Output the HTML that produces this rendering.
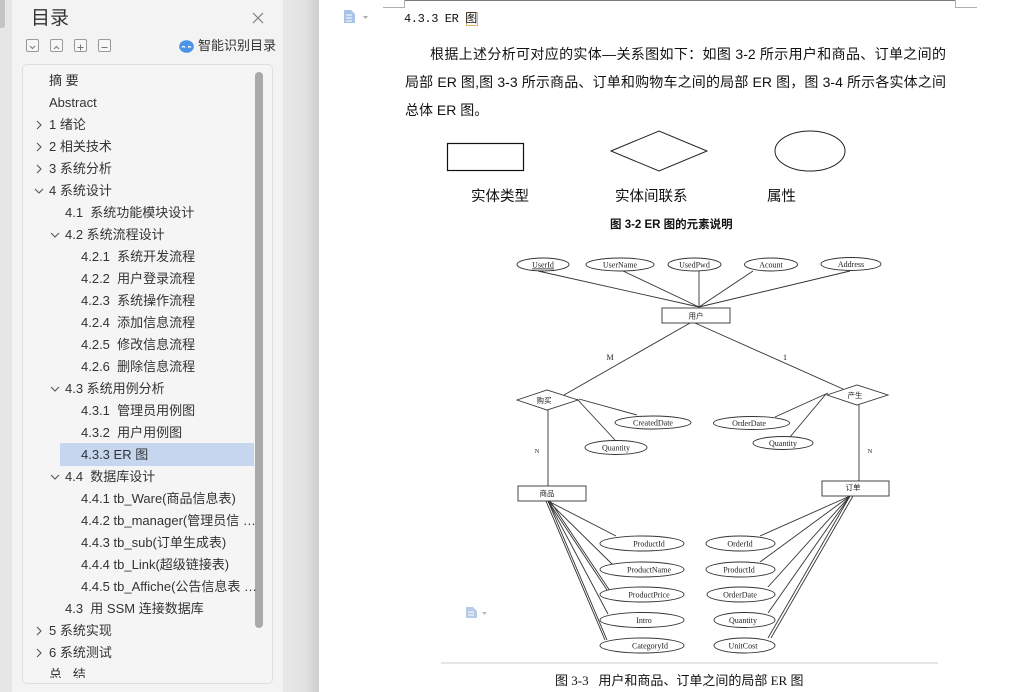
<!DOCTYPE html>
<html><head><meta charset="utf-8">
<style>
*{margin:0;padding:0;box-sizing:border-box}
html,body{width:1026px;height:692px;overflow:hidden;background:#fff}
body{position:relative;font-family:"Liberation Sans","Noto Sans CJK SC",sans-serif}
.abs{position:absolute;white-space:nowrap}
#strip{position:absolute;left:0;top:0;width:12px;height:692px;background:#e6e6e6}
#thumb{position:absolute;left:0;top:0;width:5px;height:28px;background:#c4c4c4;border-radius:0 0 3px 0}
#pane{position:absolute;left:12px;top:0;width:271px;height:692px;background:#f3f3f3}
#shadow{position:absolute;left:283px;top:0;width:36px;height:692px;background:linear-gradient(to right,#e8e8e8 0%,#e2e2e2 60%,#cdcdcd 100%)}
#box{position:absolute;left:22px;top:64px;width:251px;height:620px;background:#f5f5f5;border:1px solid #dedede;border-radius:5px;overflow:hidden}
#sb{position:absolute;left:255px;top:72px;width:8px;height:556px;background:#a9a9a9;border-radius:4px}
.it{position:absolute;font-size:13px;color:#333;line-height:22px;height:22px;white-space:nowrap}
.btn{position:absolute;top:39px;width:13px;height:13px;border:1px solid #9a9a9a;border-radius:2px;background:#f7f7f7}
.doc{font-family:"Liberation Serif","Noto Sans CJK SC",sans-serif;color:#111}
</style></head><body>
<div id="strip"><div id="thumb"></div></div>
<div id="pane"></div>
<div id="shadow"></div>

<div class="abs" style="left:31px;top:6px;font-size:19px;color:#333;line-height:26px">目录</div>
<svg class="abs" style="left:252px;top:12px" width="12" height="12"><path d="M1 1L11 11M11 1L1 11" stroke="#777" stroke-width="1.1"/></svg>

<div class="btn" style="left:26px"><svg width="11" height="11"><path d="M3 4L5.5 6.5L8 4" stroke="#777" fill="none"/></svg></div>
<div class="btn" style="left:50px"><svg width="11" height="11"><path d="M3 7L5.5 4.5L8 7" stroke="#777" fill="none"/></svg></div>
<div class="btn" style="left:74px"><svg width="11" height="11"><path d="M2.5 5.5H8.5M5.5 2.5V8.5" stroke="#777" fill="none"/></svg></div>
<div class="btn" style="left:98px"><svg width="11" height="11"><path d="M2.5 5.5H8.5" stroke="#777" fill="none"/></svg></div>

<svg class="abs" style="left:179px;top:40px" width="15" height="13"><ellipse cx="7.5" cy="6.5" rx="7.3" ry="6.3" fill="#4a93e6"/><path d="M3 7.5Q4.5 5.5 6 7.5M9 7.5Q10.5 5.5 12 7.5" stroke="#fff" stroke-width="1.2" fill="none"/></svg>
<div class="abs" style="left:198px;top:37px;font-size:13px;color:#333;line-height:18px">智能识别目录</div>

<div id="box">
<div style="position:absolute;left:37px;top:378px;width:194px;height:23px;background:#c6d6ef"></div>
</div>
<div id="sb"></div>

<div style="position:absolute;left:22px;top:64px;width:251px;height:614px;overflow:hidden">
<div style="position:absolute;left:-22px;top:-64px;width:300px;height:700px">
<div class="it" style="left:49px;top:70px">摘&nbsp;要</div>
<div class="it" style="left:49px;top:92px">Abstract</div>
<div class="it" style="left:49px;top:114px">1 绪论</div>
<div class="it" style="left:49px;top:136px">2 相关技术</div>
<div class="it" style="left:49px;top:158px">3 系统分析</div>
<div class="it" style="left:49px;top:180px">4 系统设计</div>
<div class="it" style="left:65px;top:202px">4.1&nbsp;&nbsp;系统功能模块设计</div>
<div class="it" style="left:65px;top:224px">4.2 系统流程设计</div>
<div class="it" style="left:81px;top:246px">4.2.1&nbsp;&nbsp;系统开发流程</div>
<div class="it" style="left:81px;top:268px">4.2.2&nbsp;&nbsp;用户登录流程</div>
<div class="it" style="left:81px;top:290px">4.2.3&nbsp;&nbsp;系统操作流程</div>
<div class="it" style="left:81px;top:312px">4.2.4&nbsp;&nbsp;添加信息流程</div>
<div class="it" style="left:81px;top:334px">4.2.5&nbsp;&nbsp;修改信息流程</div>
<div class="it" style="left:81px;top:356px">4.2.6&nbsp;&nbsp;删除信息流程</div>
<div class="it" style="left:65px;top:378px">4.3 系统用例分析</div>
<div class="it" style="left:81px;top:400px">4.3.1&nbsp;&nbsp;管理员用例图</div>
<div class="it" style="left:81px;top:422px">4.3.2&nbsp;&nbsp;用户用例图</div>
<div class="it" style="left:81px;top:444px">4.3.3 ER 图</div>
<div class="it" style="left:65px;top:466px">4.4&nbsp;&nbsp;数据库设计</div>
<div class="it" style="left:81px;top:488px">4.4.1 tb_Ware(商品信息表)</div>
<div class="it" style="left:81px;top:510px">4.4.2 tb_manager(管理员信 …</div>
<div class="it" style="left:81px;top:532px">4.4.3 tb_sub(订单生成表)</div>
<div class="it" style="left:81px;top:554px">4.4.4 tb_Link(超级链接表)</div>
<div class="it" style="left:81px;top:576px">4.4.5 tb_Affiche(公告信息表 …</div>
<div class="it" style="left:65px;top:598px">4.3&nbsp;&nbsp;用 SSM 连接数据库</div>
<div class="it" style="left:49px;top:620px">5 系统实现</div>
<div class="it" style="left:49px;top:642px">6 系统测试</div>
<div class="it" style="left:49px;top:664px">总&nbsp;&nbsp;&nbsp;结</div>
<svg style="position:absolute;left:0;top:0" width="300" height="700" fill="none" stroke="#555" stroke-width="1.1">
<path d="M37 121L41 125L37 129"/>
<path d="M37 143L41 147L37 151"/>
<path d="M37 165L41 169L37 173"/>
<path d="M35 189L39 193L43 189"/>
<path d="M51 233L55 237L59 233"/>
<path d="M51 387L55 391L59 387"/>
<path d="M51 475L55 479L59 475"/>
<path d="M37 627L41 631L37 635"/>
<path d="M37 649L41 653L37 657"/>
</svg>
</div>
</div>

<!-- Document area -->
<svg class="abs" style="left:0;top:0" width="1026" height="692">
<line x1="404" y1="0.5" x2="955" y2="0.5" stroke="#7a7a7a" stroke-width="1"/>
<path d="M383 7.5H404.5V0M955.5 0V7.5H977" stroke="#b0b0b0" fill="none"/>
<path d="M344 10H351L355 14V23H344Z" fill="#a9c3e6"/>
<path d="M346 15H352M346 18H352M346 21H352" stroke="#fff" stroke-width="1"/>
<path d="M363 16H368L365.5 19Z" fill="#aaa"/>
<path d="M466 607H473L477 611V618H466Z" fill="#b7cbe8"/>
<path d="M468 612H474M468 615H474" stroke="#fff"/>
<path d="M482 612H487L484.5 615Z" fill="#bbb"/>
<rect x="447.5" y="143.5" width="76" height="27" fill="none" stroke="#111" stroke-width="1.2"/>
<path d="M611 151L659 131L707 151L659 171Z" fill="none" stroke="#222" stroke-width="1"/>
<ellipse cx="810" cy="151" rx="35" ry="20" fill="none" stroke="#222" stroke-width="1"/>
<rect x="466.5" y="12.5" width="11" height="13" fill="none" stroke="#e0a040" stroke-width="0.8"/>
<rect x="441" y="662" width="497" height="2" fill="#e6e6e6"/>

<g stroke="#333" stroke-width="0.9" fill="none">
<line x1="538" y1="271" x2="699" y2="307"/>
<line x1="623" y1="271" x2="699" y2="307"/>
<line x1="699" y1="271" x2="699" y2="307"/>
<line x1="753" y1="271" x2="699" y2="307"/>
<line x1="850" y1="271" x2="699" y2="307"/>
<line x1="690" y1="323" x2="564" y2="395"/>
<line x1="695" y1="323" x2="843" y2="389"/>
<line x1="579" y1="399" x2="637" y2="415"/>
<line x1="577" y1="399" x2="615" y2="440"/>
<line x1="828" y1="393" x2="775" y2="417"/>
<line x1="826" y1="394" x2="790" y2="437"/>
<line x1="548" y1="410" x2="548" y2="486"/>
<line x1="859" y1="405" x2="859" y2="481"/>
<line x1="548" y1="501" x2="616" y2="536"/>
<line x1="548" y1="501" x2="614" y2="566"/>
<line x1="548" y1="501" x2="607" y2="590"/>
<line x1="548" y1="501" x2="608" y2="614"/>
<line x1="548" y1="501" x2="607" y2="640"/>
<line x1="550" y1="501" x2="610" y2="591"/>
<line x1="546" y1="501" x2="605" y2="640"/>
<line x1="850" y1="496" x2="760" y2="536"/>
<line x1="850" y1="496" x2="760" y2="562"/>
<line x1="850" y1="496" x2="768" y2="587"/>
<line x1="850" y1="496" x2="768" y2="613"/>
<line x1="850" y1="496" x2="768" y2="638"/>
<line x1="853" y1="496" x2="771" y2="638"/>
</g>
<g stroke="#333" stroke-width="0.9" fill="#fff">
<ellipse cx="543" cy="264.5" rx="26" ry="6.5"/>
<ellipse cx="620" cy="264.5" rx="34" ry="6.5"/>
<ellipse cx="694.5" cy="264.5" rx="26.5" ry="6.5"/>
<ellipse cx="771" cy="264.5" rx="26.5" ry="6.5"/>
<ellipse cx="851" cy="264" rx="30" ry="6.5"/>
<rect x="662" y="308" width="68" height="15"/>
<path d="M517 400L547 390L578 400L547 410Z"/>
<path d="M827 395L857 385L888 395L857 405Z"/>
<ellipse cx="653" cy="422.5" rx="38" ry="6.5"/>
<ellipse cx="616" cy="447.5" rx="31" ry="7"/>
<ellipse cx="751.5" cy="423" rx="38" ry="6.5"/>
<ellipse cx="783" cy="443" rx="30" ry="6.5"/>
<rect x="518" y="486" width="68" height="15"/>
<rect x="822" y="481" width="67" height="15"/>
<ellipse cx="642" cy="543.5" rx="42" ry="7.5"/>
<ellipse cx="642" cy="569.5" rx="42" ry="7.5"/>
<ellipse cx="642" cy="594.5" rx="42" ry="7.5"/>
<ellipse cx="642" cy="620" rx="42" ry="7.5"/>
<ellipse cx="642" cy="645.5" rx="42" ry="7.5"/>
<ellipse cx="740.5" cy="543.5" rx="34.5" ry="7.5"/>
<ellipse cx="740.5" cy="569.5" rx="34.5" ry="7.5"/>
<ellipse cx="741" cy="594.5" rx="34" ry="7.5"/>
<ellipse cx="744.5" cy="620" rx="30.5" ry="7.5"/>
<ellipse cx="744.5" cy="645.5" rx="30.5" ry="7.5"/>
</g>
<g font-family="Liberation Serif, Noto Serif CJK SC, serif" font-size="8" fill="#222" text-anchor="middle">
<text x="543" y="267.5" text-decoration="underline">UserId</text>
<text x="620" y="267.5">UserName</text>
<text x="694.5" y="267.5">UsedPwd</text>
<text x="771" y="267.5">Acount</text>
<text x="851" y="267">Address</text>
<text x="696" y="318.5" font-family="Noto Sans CJK SC, sans-serif" font-size="7.5">用户</text>
<text x="610" y="360">M</text>
<text x="785" y="360">1</text>
<text x="544" y="403" font-family="Noto Sans CJK SC, sans-serif" font-size="7.5">购买</text>
<text x="855" y="398" font-family="Noto Sans CJK SC, sans-serif" font-size="7.5">产生</text>
<text x="653" y="425.5">CreatedDate</text>
<text x="616" y="450.5">Quantity</text>
<text x="749" y="426">OrderDate</text>
<text x="783" y="446">Quantity</text>
<text x="537" y="453" font-size="6.5">N</text>
<text x="870" y="453" font-size="6.5">N</text>
<text x="547" y="496" font-family="Noto Sans CJK SC, sans-serif" font-size="7.5">商品</text>
<text x="853" y="490" font-family="Noto Sans CJK SC, sans-serif" font-size="7.5">订单</text>
<text x="649" y="546.5">ProductId</text>
<text x="649" y="572.5">ProductName</text>
<text x="649" y="597.5">ProductPrice</text>
<text x="644" y="623">Intro</text>
<text x="650" y="648.5">CategoryId</text>
<text x="740" y="546.5">OrderId</text>
<text x="739" y="572.5">ProductId</text>
<text x="740" y="597.5">OrderDate</text>
<text x="743" y="623">Quantity</text>
<text x="743" y="648.5">UnitCost</text>
</g>
</svg>

<div class="abs doc" style="left:404px;top:11px;font-family:'Liberation Mono','Noto Sans CJK SC',monospace;font-size:12px;line-height:16px;letter-spacing:-0.4px">4.3.3 ER 图</div>

<div class="abs doc" style="left:430px;top:44px;width:516px;font-size:14px;line-height:20px;text-align:justify;text-align-last:justify;font-family:'Liberation Sans','Noto Sans CJK SC',sans-serif">根据上述分析可对应的实体—关系图如下：如图 3-2 所示用户和商品、订单之间的</div>
<div class="abs doc" style="left:405px;top:72px;width:541px;font-size:14px;line-height:20px;text-align:justify;text-align-last:justify;font-family:'Liberation Sans','Noto Sans CJK SC',sans-serif">局部 ER 图,图 3-3 所示商品、订单和购物车之间的局部 ER 图，图 3-4 所示各实体之间</div>
<div class="abs doc" style="left:405px;top:100px;font-size:14px;line-height:20px;font-family:'Liberation Sans','Noto Sans CJK SC',sans-serif">总体 ER 图。</div>

<div class="abs doc" style="left:471px;top:187px;font-size:14.5px;line-height:20px;font-family:'Liberation Sans','Noto Sans CJK SC',sans-serif">实体类型</div>
<div class="abs doc" style="left:615px;top:187px;font-size:14.5px;line-height:20px;font-family:'Liberation Sans','Noto Sans CJK SC',sans-serif">实体间联系</div>
<div class="abs doc" style="left:767px;top:187px;font-size:14.5px;line-height:20px;font-family:'Liberation Sans','Noto Sans CJK SC',sans-serif">属性</div>
<div class="abs doc" style="left:610px;top:217px;font-size:11.5px;line-height:16px;font-weight:bold;font-family:'Liberation Sans','Noto Sans CJK SC',sans-serif">图 3-2 ER 图的元素说明</div>

<div class="abs doc" style="left:555px;top:672px;font-size:13px;line-height:18px;font-family:'Liberation Serif','Noto Sans CJK SC',serif">图 3-3&nbsp;&nbsp;&nbsp;用户和商品、订单之间的局部 ER 图</div>
</body></html>
